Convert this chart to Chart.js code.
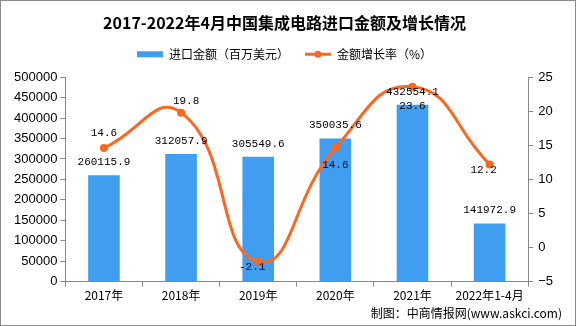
<!DOCTYPE html>
<html>
<head>
<meta charset="utf-8">
<script src="https://cdn.jsdelivr.net/npm/chart.js@4"></script>
<style>
  body { margin: 0; background: #fff; }
  canvas { display: block; }
</style>
</head>
<body>
<canvas id="myChart" width="576" height="326"></canvas>
<script>
"use strict";

const categories = ['2017年', '2018年', '2019年', '2020年', '2021年', '2022年1-4月'];
const importValues = [260115.9, 312057.9, 305549.6, 350035.6, 432554.1, 141972.9];
const growthRates = [14.6, 19.8, -2.1, 14.6, 23.6, 12.2];

const barLabel = '进口金额（百万美元）';
const lineLabel = '金额增长率（%）';
const titleText = '2017-2022年4月中国集成电路进口金额及增长情况';
const footerText = '制图：中商情报网(www.askci.com)';

// where each growth label sits relative to its point (dx, dy in px)
const lineLabelOffsets = [[0, -15], [5, -12], [-6, 5], [0, 17], [0, 19], [-6, 6]];

const barColor = 'rgb(64, 158, 240)';
const lineColor = 'rgb(252, 102, 30)';
const labelFont = '11px "Liberation Mono", monospace';

const dataLabels = {
    id: 'dataLabels',
    afterDatasetsDraw(chart) {
        const ctx = chart.ctx;
        ctx.save();
        ctx.font = labelFont;
        ctx.fillStyle = '#000';
        ctx.textAlign = 'center';
        ctx.textBaseline = 'middle';
        chart.getDatasetMeta(0).data.forEach((bar, i) => {
            ctx.fillText(importValues[i].toFixed(1), bar.x, bar.y - 13);
        });
        chart.getDatasetMeta(1).data.forEach((pt, i) => {
            const off = lineLabelOffsets[i];
            ctx.fillText(growthRates[i].toFixed(1), pt.x + off[0], pt.y + off[1]);
        });
        ctx.restore();
    }
};

// extra room under the legend, plus a dot on the line legend item
const legendExtras = {
    id: 'legendExtras',
    beforeInit(chart) {
        const fit = chart.legend.fit;
        chart.legend.fit = function () {
            fit.bind(chart.legend)();
            this.height += 7;
        };
    },
    afterDraw(chart) {
        const item = chart.legend.legendHitBoxes[1];
        if (!item) return;
        const ctx = chart.ctx;
        ctx.save();
        ctx.fillStyle = lineColor;
        ctx.beginPath();
        ctx.arc(item.left + 13, item.top + item.height / 2, 3.5, 0, Math.PI * 2);
        ctx.fill();
        ctx.restore();
    }
};

const frame = {
    id: 'frame',
    afterDraw(chart) {
        const ctx = chart.ctx;
        ctx.save();
        ctx.font = '12px "Noto Sans CJK SC", sans-serif';
        ctx.fillStyle = '#000';
        ctx.textAlign = 'right';
        ctx.textBaseline = 'middle';
        ctx.fillText(footerText, 562, 313);
        ctx.strokeStyle = '#888';
        ctx.lineWidth = 1;
        ctx.strokeRect(0.5, 0.5, chart.width - 1, chart.height - 1);
        ctx.restore();
    }
};

const ctx = document.getElementById('myChart');

const chart = new Chart(ctx, {
    data: {
        labels: categories,
        datasets: [{
            type: 'bar',
            label: barLabel,
            data: importValues,
            yAxisID: 'y',
            backgroundColor: barColor,
            categoryPercentage: 1,
            barPercentage: 0.41,
            order: 1
        }, {
            type: 'line',
            label: lineLabel,
            data: growthRates,
            yAxisID: 'y1',
            borderColor: lineColor,
            backgroundColor: lineColor,
            borderWidth: 3,
            tension: 0.5,
            pointRadius: 4,
            pointBackgroundColor: lineColor,
            pointBorderWidth: 0,
            order: 0
        }]
    },
    options: {
        responsive: false,
        animation: false,
        layout: { padding: { left: 11, right: 18, top: 0, bottom: 21 } },
        plugins: {
            title: {
                display: true,
                text: titleText,
                color: '#000',
                font: { family: '"Noto Sans CJK SC", sans-serif', size: 16, weight: 'bold' },
                padding: { top: 13, bottom: 0 }
            },
            legend: {
                labels: {
                    color: '#000',
                    boxHeight: 6,
                    usePointStyle: true,
                    pointStyleWidth: 26,
                    padding: 16,
                    sort: (a, b) => a.datasetIndex - b.datasetIndex,
                    generateLabels: (chart) => {
                        const items = Chart.defaults.plugins.legend.labels.generateLabels(chart);
                        items.forEach((it) => {
                            if (it.datasetIndex === 0) {
                                it.pointStyle = 'rect';
                                it.lineWidth = 0;
                            } else {
                                it.pointStyle = 'line';
                                it.strokeStyle = lineColor;
                                it.lineWidth = 3;
                            }
                        });
                        return items;
                    },
                    font: { family: '"Noto Sans CJK SC", sans-serif', size: 12 }
                }
            },
            tooltip: { enabled: false }
        },
        scales: {
            x: {
                grid: { display: true, drawOnChartArea: false, offset: true, tickLength: 5, color: '#888' },
                border: { color: '#888' },
                ticks: { color: '#000', font: { family: '"Noto Sans CJK SC", sans-serif', size: 12 }, maxRotation: 0, padding: 2 }
            },
            y: {
                position: 'left',
                min: 0,
                max: 500000,
                grid: { display: true, drawOnChartArea: false, tickLength: 5, color: '#888' },
                border: { color: '#888' },
                ticks: { stepSize: 50000, color: '#000', font: { family: '"Liberation Sans", sans-serif', size: 13 }, padding: 3,
                    callback: (v) => String(v) }
            },
            y1: {
                position: 'right',
                min: -5,
                max: 25,
                grid: { display: true, drawOnChartArea: false, tickLength: 5, color: '#888' },
                border: { color: '#888' },
                ticks: { stepSize: 5, color: '#000', font: { family: '"Liberation Sans", sans-serif', size: 13 }, padding: 5,
                    callback: (v) => v < 0 ? '−' + Math.abs(v) : String(v) }
            }
        }
    },
    plugins: [dataLabels, legendExtras, frame]
});
</script>
</body>
</html>
